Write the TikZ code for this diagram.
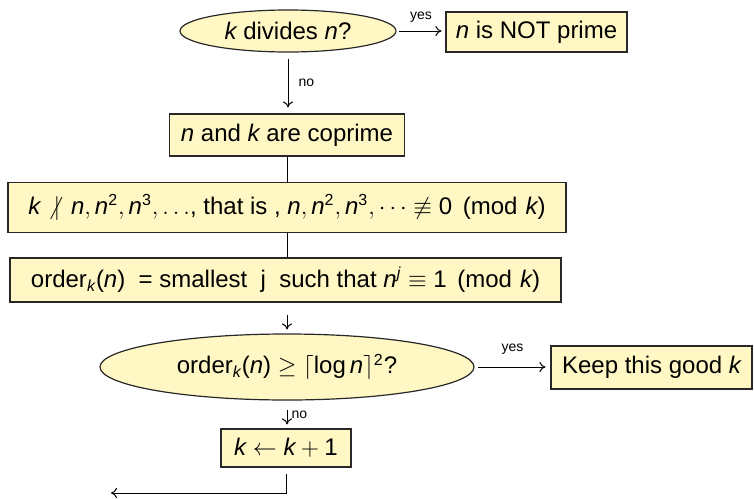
\documentclass[tikz,border=0pt]{standalone}
\usepackage{amsmath,amssymb}
\usepackage{fontspec}
\setmainfont{Liberation Sans}
\newfontfamily\mathsans{Liberation Sans}[NFSSFamily=libsans]
\usetikzlibrary{shapes.geometric,arrows.meta}
\definecolor{boxfill}{RGB}{255,248,196}
\definecolor{boxline}{RGB}{40,40,40}
% sans letters, digits and parentheses in formulas
\DeclareSymbolFont{sfup}{TU}{libsans}{m}{n}
\DeclareSymbolFont{sfit}{TU}{libsans}{m}{it}
\DeclareMathSymbol{j}{\mathalpha}{sfit}{`j}
\DeclareMathSymbol{k}{\mathalpha}{sfit}{`k}
\DeclareMathSymbol{n}{\mathalpha}{sfit}{`n}
\AtBeginDocument{%
  \Umathcode`0=0 \symsfup `0
  \Umathcode`1=0 \symsfup `1
  \Umathcode`2=0 \symsfup `2
  \Umathcode`3=0 \symsfup `3
  \Umathcode`(=4 \symsfup `(
  \Umathcode`)=5 \symsfup `)
}
\begin{document}
\begin{tikzpicture}[x=0.5pt,y=-0.5pt,
  every node/.style={font=\fontsize{12}{14}\selectfont},
  proc/.style={rectangle, draw=boxline, fill=boxfill, line width=0.6pt, inner sep=0pt},
  decision/.style={ellipse, draw=boxline, fill=boxfill, line width=0.6pt, inner sep=0pt},
  link/.style={line width=0.5pt, draw=black},
  flow/.style={link, -{To[length=3pt,width=5pt]}},
  tag/.style={font=\fontsize{7}{8}\selectfont, inner sep=1pt}]
\useasboundingbox (0,0) rectangle (754,498);

% decisions and steps
\node[decision, minimum width=108pt, minimum height=21pt] (div) at (288,31) {$k$ divides $n$?};
\node[proc, minimum width=90.5pt, minimum height=20pt] (notp) at (536.5,32) {$n$ is NOT prime};
\node[proc, minimum width=117.5pt, minimum height=21pt] (cop) at (287,135) {$n$ and $k$ are coprime};
\node[proc, minimum width=279pt, minimum height=25pt] (ndiv) at (287,207.5)
  {$k \mathrel{\not|}\, n, n^2, n^3, \ldots$, that is , $n, n^2, n^3, \cdots \not\equiv 0 \pmod{k}$};
\node[proc, minimum width=275.5pt, minimum height=22pt] (ord) at (285.5,280)
  {order$_{k}(n)$ ~= smallest ~j ~such that $n^{j} \equiv 1 \pmod{k}$};
\node[decision, minimum width=187pt, minimum height=33pt] (test) at (287,367)
  {order$_{k}(n) \geq \lceil \log n \rceil^2$?};
\node[proc, minimum width=100.5pt, minimum height=21.5pt] (keep) at (651.5,367.5) {Keep this good $k$};
\node[proc, minimum width=65pt, minimum height=19pt] (inc) at (286,448) {$k \leftarrow k+1$};
\coordinate (back) at (111,493);

% connectors
\draw[flow, shorten <=1pt, shorten >=2pt] (div.east) -- (div.east -| notp.west)
  node[tag, midway, above=3pt] {yes};
\draw[flow, shorten <=3pt, shorten >=3pt] (div.south) -- (div.south |- cop.north)
  node[tag, midway, right=4pt] {no};
\draw[link] (cop.south) -- (cop.south |- ndiv.north);
\draw[link] (cop.south |- ndiv.south) -- (cop.south |- ord.north);
\draw[flow, shorten <=6pt, shorten >=2pt] (cop.south |- ord.south) -- (cop.south |- test.north);
\draw[flow, shorten <=1.5pt, shorten >=2.5pt] (test.east) -- (test.east -| keep.west)
  node[tag, midway, above=5pt] {yes};
\draw[flow, shorten <=4.5pt, shorten >=2pt] (test.south) -- (test.south |- inc.north)
  node[tag, midway, right=1pt] {no};
\draw[flow, shorten <=3pt] (inc.south) |- (back);
\end{tikzpicture}
\end{document}
